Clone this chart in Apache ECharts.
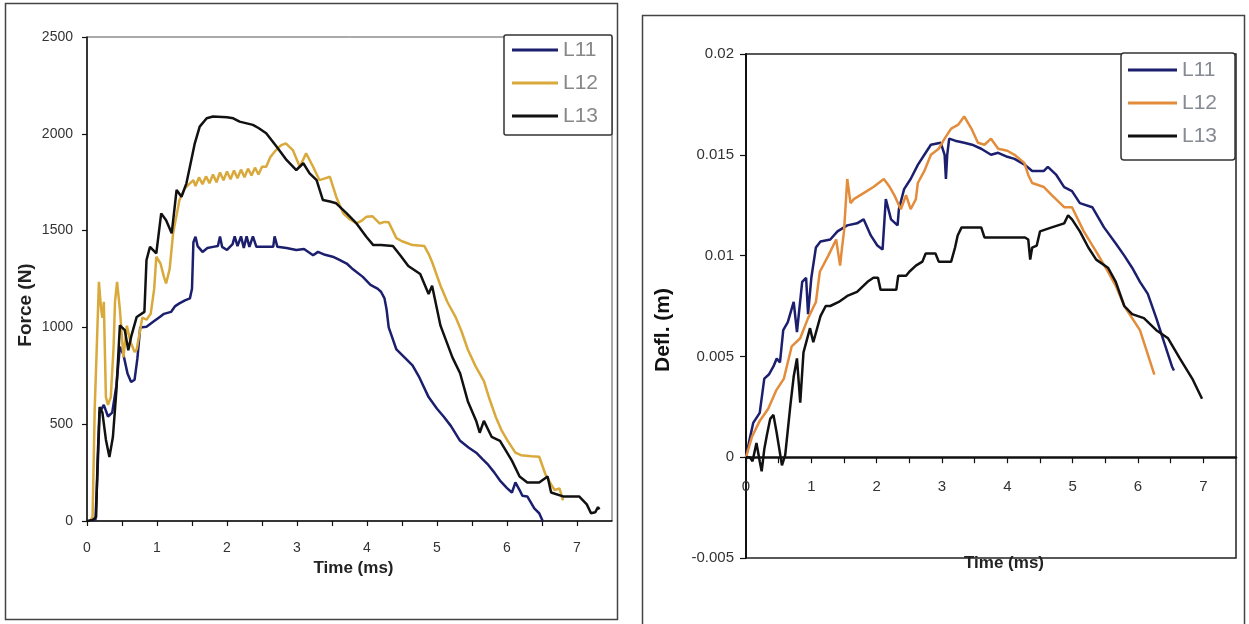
<!DOCTYPE html>
<html>
<head>
<meta charset="utf-8">
<script src="https://cdn.jsdelivr.net/npm/echarts@6/dist/echarts.min.js"></script>
<style>
html,body{margin:0;padding:0;background:#fff;}
#chart{width:1249px;height:624px;}
</style>
</head>
<body>
<div id="chart"></div>
<script>
// ---------- data ----------
const seriesNames = ['L11', 'L12', 'L13'];
const xTicksMs = [0, 1, 2, 3, 4, 5, 6, 7];
const forceTicks = [0, 500, 1000, 1500, 2000, 2500];
const deflTicks = [-0.005, 0, 0.005, 0.01, 0.015, 0.02];

// Force (N) vs time (ms)
const forceL11 = [[0.12,0],[0.15,250],[0.18,560],[0.24,600],[0.3,540],[0.36,560],[0.42,700],[0.47,900],[0.52,860],[0.58,760],[0.63,718],[0.68,730],[0.72,840],[0.76,1000],[0.85,1003],[0.95,1030],[1.04,1054],[1.1,1070],[1.2,1080],[1.26,1110],[1.32,1124],[1.4,1140],[1.47,1150],[1.5,1200],[1.52,1440],[1.55,1468],[1.58,1420],[1.65,1390],[1.72,1410],[1.8,1416],[1.87,1420],[1.9,1470],[1.93,1416],[2.0,1400],[2.08,1430],[2.11,1470],[2.15,1420],[2.2,1470],[2.24,1410],[2.28,1470],[2.32,1416],[2.37,1470],[2.42,1416],[2.6,1416],[2.66,1416],[2.68,1470],[2.72,1416],[2.85,1410],[2.99,1400],[3.1,1405],[3.23,1373],[3.3,1390],[3.4,1375],[3.51,1365],[3.6,1350],[3.71,1330],[3.8,1300],[3.94,1261],[4.05,1220],[4.15,1200],[4.2,1184],[4.25,1150],[4.28,1092],[4.31,1000],[4.34,969],[4.42,886],[4.55,840],[4.65,804],[4.75,740],[4.88,640],[5.0,580],[5.1,537],[5.2,490],[5.33,414],[5.45,380],[5.56,353],[5.65,320],[5.73,291],[5.82,250],[5.9,209],[6.0,170],[6.07,147],[6.12,199],[6.18,160],[6.22,130],[6.29,127],[6.39,65],[6.46,40],[6.51,0]];
const forceL12 = [[0.05,0],[0.08,24],[0.11,579],[0.14,900],[0.17,1235],[0.2,1100],[0.22,1050],[0.24,1132],[0.27,640],[0.3,600],[0.34,640],[0.38,900],[0.4,1132],[0.43,1235],[0.47,1092],[0.52,845],[0.57,1009],[0.62,927],[0.68,873],[0.71,886],[0.79,1050],[0.85,1040],[0.91,1070],[0.96,1200],[0.99,1365],[1.05,1330],[1.1,1260],[1.13,1227],[1.18,1300],[1.23,1486],[1.28,1580],[1.32,1657],[1.4,1720],[1.47,1744],[1.52,1760],[1.55,1730],[1.6,1775],[1.65,1740],[1.7,1780],[1.75,1745],[1.8,1790],[1.85,1750],[1.9,1800],[1.95,1760],[2.0,1805],[2.05,1765],[2.1,1810],[2.15,1770],[2.2,1815],[2.25,1775],[2.3,1820],[2.35,1785],[2.4,1825],[2.45,1790],[2.5,1830],[2.56,1830],[2.62,1880],[2.7,1916],[2.77,1940],[2.84,1951],[2.94,1916],[3.04,1830],[3.13,1899],[3.23,1830],[3.32,1761],[3.4,1770],[3.47,1778],[3.56,1675],[3.66,1589],[3.75,1560],[3.85,1537],[3.92,1550],[3.99,1571],[4.08,1574],[4.18,1537],[4.25,1545],[4.31,1543],[4.42,1461],[4.5,1445],[4.54,1440],[4.65,1425],[4.82,1420],[4.88,1380],[4.93,1338],[5.05,1215],[5.15,1130],[5.27,1050],[5.35,980],[5.44,886],[5.55,800],[5.67,722],[5.75,630],[5.84,537],[5.92,470],[6.01,414],[6.12,353],[6.2,340],[6.35,335],[6.46,332],[6.55,240],[6.63,189],[6.68,160],[6.75,168],[6.8,107]];
const forceL13 = [[0,0],[0.08,5],[0.13,20],[0.15,300],[0.18,589],[0.22,560],[0.27,420],[0.32,330],[0.37,434],[0.42,675],[0.47,1011],[0.54,986],[0.59,882],[0.63,951],[0.71,1054],[0.82,1080],[0.85,1348],[0.9,1416],[0.99,1382],[1.06,1589],[1.13,1554],[1.21,1486],[1.28,1710],[1.35,1675],[1.42,1744],[1.47,1830],[1.54,1951],[1.61,2037],[1.71,2080],[1.8,2089],[2.0,2085],[2.09,2080],[2.18,2063],[2.37,2046],[2.45,2030],[2.56,2003],[2.71,1933],[2.85,1865],[2.99,1813],[3.09,1848],[3.18,1796],[3.28,1761],[3.37,1658],[3.47,1650],[3.56,1641],[3.71,1589],[3.85,1537],[3.99,1468],[4.09,1425],[4.2,1425],[4.37,1420],[4.48,1370],[4.59,1317],[4.76,1276],[4.88,1173],[4.93,1215],[5.05,1009],[5.22,845],[5.33,763],[5.44,619],[5.56,517],[5.61,456],[5.67,517],[5.78,435],[5.9,414],[6.07,312],[6.18,230],[6.29,199],[6.46,199],[6.58,230],[6.63,147],[6.8,127],[7.03,127],[7.14,86],[7.2,40],[7.26,45],[7.3,72],[7.32,60]];

// Deflection (m) vs time (ms)
const deflL11 = [[0,0],[0.05,0.0008],[0.11,0.0017],[0.21,0.0022],[0.28,0.0039],[0.35,0.0041],[0.42,0.0045],[0.47,0.0049],[0.52,0.0047],[0.57,0.0063],[0.64,0.0067],[0.73,0.0077],[0.78,0.0062],[0.86,0.0087],[0.92,0.0089],[0.95,0.0071],[1.0,0.0089],[1.07,0.0104],[1.14,0.0107],[1.29,0.0108],[1.4,0.0112],[1.55,0.0115],[1.7,0.0116],[1.8,0.0118],[1.91,0.011],[2.01,0.0105],[2.09,0.0103],[2.14,0.0128],[2.22,0.0118],[2.32,0.0115],[2.34,0.0123],[2.42,0.0133],[2.52,0.0138],[2.63,0.0145],[2.73,0.0150],[2.83,0.0155],[2.98,0.0156],[3.04,0.0150],[3.06,0.0138],[3.08,0.0150],[3.11,0.0158],[3.2,0.0157],[3.34,0.0156],[3.46,0.0155],[3.6,0.0153],[3.75,0.0150],[3.86,0.0151],[4.0,0.0149],[4.11,0.0148],[4.27,0.0145],[4.38,0.0142],[4.56,0.0142],[4.62,0.0144],[4.75,0.0140],[4.87,0.0134],[4.99,0.0132],[5.11,0.0126],[5.3,0.0124],[5.48,0.0114],[5.66,0.0106],[5.79,0.0100],[5.91,0.0094],[6.03,0.0087],[6.15,0.0081],[6.28,0.0069],[6.4,0.0057],[6.52,0.0045],[6.55,0.0043]];
const deflL12 = [[0,0],[0.09,0.001],[0.21,0.0018],[0.34,0.0024],[0.46,0.0033],[0.58,0.0039],[0.7,0.0055],[0.83,0.0059],[0.95,0.0069],[1.07,0.0077],[1.13,0.0092],[1.26,0.0100],[1.38,0.0108],[1.44,0.0095],[1.47,0.0104],[1.5,0.0112],[1.55,0.0138],[1.6,0.0126],[1.65,0.0128],[1.8,0.0131],[1.95,0.0134],[2.11,0.0138],[2.2,0.0134],[2.27,0.0130],[2.37,0.0123],[2.45,0.0130],[2.52,0.0123],[2.6,0.0128],[2.63,0.0136],[2.73,0.0142],[2.83,0.0150],[2.95,0.0153],[3.04,0.0158],[3.14,0.0163],[3.25,0.0165],[3.34,0.0169],[3.45,0.0163],[3.55,0.0156],[3.65,0.0155],[3.75,0.0158],[3.86,0.0153],[4.0,0.0152],[4.11,0.0150],[4.26,0.0146],[4.32,0.0140],[4.38,0.0136],[4.56,0.0134],[4.68,0.0130],[4.87,0.0124],[4.99,0.0124],[5.17,0.0112],[5.36,0.0102],[5.54,0.0092],[5.66,0.0085],[5.79,0.0075],[5.91,0.0069],[6.03,0.0063],[6.15,0.0051],[6.25,0.0041]];
const deflL13 = [[0,0],[0.06,0],[0.1,-0.0002],[0.16,0.0007],[0.21,-0.0002],[0.24,-0.0007],[0.28,0.0004],[0.32,0.0011],[0.37,0.0019],[0.42,0.0021],[0.47,0.0012],[0.5,0.0006],[0.55,-0.0004],[0.6,0.0001],[0.68,0.0026],[0.73,0.004],[0.78,0.0049],[0.83,0.0027],[0.88,0.0052],[0.98,0.0064],[1.03,0.0057],[1.14,0.007],[1.22,0.0075],[1.29,0.0075],[1.42,0.0077],[1.55,0.008],[1.7,0.0082],[1.86,0.0087],[1.95,0.0089],[2.02,0.0089],[2.06,0.0083],[2.22,0.0083],[2.3,0.0083],[2.33,0.009],[2.45,0.009],[2.5,0.0092],[2.6,0.0095],[2.7,0.0097],[2.75,0.0101],[2.9,0.0101],[2.95,0.0097],[3.14,0.0097],[3.2,0.0104],[3.24,0.0110],[3.3,0.0114],[3.6,0.0114],[3.65,0.0109],[4.27,0.0109],[4.32,0.0108],[4.35,0.0098],[4.38,0.0104],[4.45,0.0105],[4.5,0.0112],[4.68,0.0114],[4.87,0.0116],[4.93,0.0120],[4.99,0.0118],[5.11,0.0112],[5.24,0.0104],[5.36,0.0098],[5.54,0.0094],[5.66,0.0087],[5.79,0.0075],[5.91,0.0071],[6.09,0.0069],[6.28,0.0063],[6.46,0.0059],[6.64,0.0049],[6.83,0.0039],[6.98,0.0029]];

// ---------- styling ----------
const FONT = 'Liberation Sans, Arial, sans-serif';
const colorsLeft = ['#1b1f6e', '#d9a93c', '#111111'];
const colorsRight = ['#1b1f6e', '#e38c3b', '#111111'];

function intLabel(v) {
  const r = Math.round(v);
  return (Math.abs(v - r) < 1e-6 && xTicksMs.indexOf(r) >= 0) ? String(r) : '';
}
function plainLabel(v) {
  return String(Math.round(v * 100000) / 100000);
}

function lineSeries(name, data, color, xi, yi) {
  return {
    name: name, type: 'line', data: data, xAxisIndex: xi, yAxisIndex: yi,
    showSymbol: false, symbol: 'none', smooth: false,
    lineStyle: { color: color, width: 2.5 }, itemStyle: { color: color },
    emphasis: { disabled: true }
  };
}

const chart = echarts.init(document.getElementById('chart'), null, { renderer: 'canvas' });

const option = {
  animation: false,
  backgroundColor: '#ffffff',
  textStyle: { fontFamily: FONT },
  graphic: [
    { type: 'rect', shape: { x: 5.5, y: 3.5, width: 612, height: 616 }, style: { fill: null, stroke: '#444', lineWidth: 1.5 }, z: 0 },
    { type: 'rect', shape: { x: 642.5, y: 15.5, width: 602, height: 620 }, style: { fill: null, stroke: '#444', lineWidth: 1.5 }, z: 0 }
  ],
  grid: [
    { left: 87, top: 37, width: 525, height: 484, show: true, borderColor: '#555', borderWidth: 1, backgroundColor: 'transparent', containLabel: false, outerBoundsMode: 'none' },
    { left: 746, top: 54, width: 490, height: 504, show: true, borderColor: '#222', borderWidth: 1.5, backgroundColor: 'transparent', containLabel: false, outerBoundsMode: 'none' }
  ],
  legend: [
    {
      orient: 'vertical', left: 504, top: 35, padding: [4, 14, 8, 8],
      backgroundColor: '#fff', borderColor: '#333', borderWidth: 1.5, borderRadius: 2,
      itemWidth: 46, itemHeight: 3, itemGap: 11, icon: 'rect', selectedMode: false,
      textStyle: { fontFamily: FONT, fontSize: 21, color: '#888', lineHeight: 22 },
      data: seriesNames.map((n, i) => ({ name: n, itemStyle: { color: colorsLeft[i] } }))
    },
    {
      orient: 'vertical', left: 1121, top: 53, padding: [6, 18, 13, 7],
      backgroundColor: '#fff', borderColor: '#333', borderWidth: 1.5, borderRadius: 3,
      itemWidth: 49, itemHeight: 3, itemGap: 11, icon: 'rect', selectedMode: false,
      textStyle: { fontFamily: FONT, fontSize: 21, color: '#858a93', lineHeight: 22 },
      data: seriesNames.map((n, i) => ({ name: n, itemStyle: { color: colorsRight[i] } }))
    }
  ],
  xAxis: [
    {
      type: 'value', gridIndex: 0, min: 0, max: 7.5, interval: 0.5,
      axisLine: { onZero: false, lineStyle: { color: '#111', width: 1.5 } },
      axisTick: { length: 5, lineStyle: { color: '#111', width: 1.2 } },
      axisLabel: { formatter: intLabel, showMaxLabel: false, margin: 20, fontSize: 14, color: '#333', fontFamily: FONT },
      splitLine: { show: false },
      name: 'Time (ms)', nameLocation: 'middle', nameGap: 36,
      nameTextStyle: { fontFamily: FONT, fontWeight: 'bold', fontSize: 17, color: '#222', padding: [0, 0, 0, 8] }
    },
    {
      type: 'value', gridIndex: 1, min: 0, max: 7.5, interval: 0.5,
      axisLine: { onZero: true, lineStyle: { color: '#111', width: 2.5 } },
      axisTick: { length: 6, lineStyle: { color: '#111', width: 1.2 } },
      axisLabel: { formatter: intLabel, showMaxLabel: false, margin: -79, fontSize: 15, color: '#333', fontFamily: FONT },
      splitLine: { show: false },
      name: 'Time (ms)', nameLocation: 'middle', nameGap: -3,
      nameTextStyle: { fontFamily: FONT, fontWeight: 'bold', fontSize: 17, color: '#222', padding: [0, 0, 0, 26] }
    }
  ],
  yAxis: [
    {
      type: 'value', gridIndex: 0, min: forceTicks[0], max: forceTicks[forceTicks.length - 1], interval: 500,
      axisLine: { show: true, lineStyle: { color: '#111', width: 1.5 } },
      axisTick: { show: true, length: 5, lineStyle: { color: '#111', width: 1.2 } },
      axisLabel: { margin: 14, fontSize: 14, color: '#333', fontFamily: FONT, formatter: plainLabel },
      splitLine: { show: false },
      name: 'Force (N)', nameLocation: 'middle', nameGap: 52,
      nameTextStyle: { fontFamily: FONT, fontWeight: 'bold', fontSize: 19, color: '#222', padding: [0, 52, 0, 0] }
    },
    {
      type: 'value', gridIndex: 1, min: deflTicks[0], max: deflTicks[deflTicks.length - 1], interval: 0.005,
      axisLine: { show: true, onZero: false, lineStyle: { color: '#111', width: 2 } },
      axisTick: { show: true, length: 6, lineStyle: { color: '#111', width: 1.2 } },
      axisLabel: { margin: 12, fontSize: 15, color: '#333', fontFamily: FONT, formatter: plainLabel },
      splitLine: { show: false },
      name: 'Defl. (m)', nameLocation: 'middle', nameGap: 72,
      nameTextStyle: { fontFamily: FONT, fontWeight: 'bold', fontSize: 21, color: '#111', padding: [0, 48, 0, 0] }
    }
  ],
  series: [
    lineSeries('L11', forceL11, colorsLeft[0], 0, 0),
    lineSeries('L12', forceL12, colorsLeft[1], 0, 0),
    lineSeries('L13', forceL13, colorsLeft[2], 0, 0),
    lineSeries('L11', deflL11, colorsRight[0], 1, 1),
    lineSeries('L12', deflL12, colorsRight[1], 1, 1),
    lineSeries('L13', deflL13, colorsRight[2], 1, 1)
  ]
};
chart.setOption(option);
</script>
</body>
</html>
